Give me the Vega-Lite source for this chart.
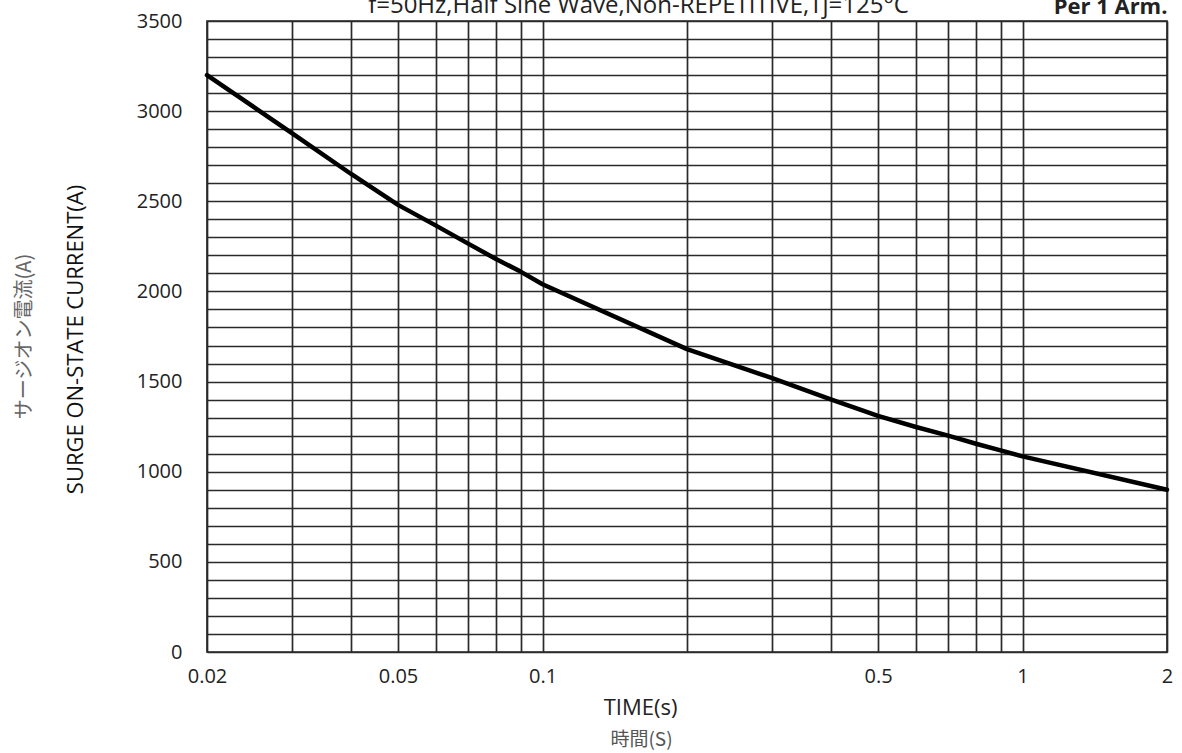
{
  "$schema": "https://vega.github.io/schema/vega-lite/v6.json",
  "autosize": {"type": "none"},
  "width": 960,
  "height": 631,
  "padding": {"left": 207, "top": 21, "right": 15, "bottom": 101},
  "background": "white",
  "config": {
    "font": "Open Sans",
    "view": {"stroke": "#222", "strokeWidth": 1.6}
  },
  "data": {
    "values": [
      {"t": 0.02, "i": 3200},
      {"t": 0.03, "i": 2880},
      {"t": 0.04, "i": 2650},
      {"t": 0.05, "i": 2480},
      {"t": 0.06, "i": 2365},
      {"t": 0.07, "i": 2265},
      {"t": 0.08, "i": 2180},
      {"t": 0.09, "i": 2110},
      {"t": 0.1, "i": 2040},
      {"t": 0.2, "i": 1680},
      {"t": 0.3, "i": 1520},
      {"t": 0.4, "i": 1400},
      {"t": 0.5, "i": 1310},
      {"t": 0.6, "i": 1248},
      {"t": 0.7, "i": 1200},
      {"t": 0.8, "i": 1155},
      {"t": 0.9, "i": 1118},
      {"t": 1, "i": 1085},
      {"t": 2, "i": 900}
    ]
  },
  "layer": [
    {
      "mark": {"type": "line", "color": "black", "strokeWidth": 4.5, "strokeCap": "round", "strokeJoin": "round"},
      "encoding": {
        "x": {
          "field": "t", "type": "quantitative",
          "scale": {"type": "log", "domain": [0.02, 2], "nice": false},
          "axis": {
            "orient": "bottom",
            "values": [0.02, 0.03, 0.04, 0.05, 0.06, 0.07, 0.08, 0.09, 0.1, 0.2, 0.3, 0.4, 0.5, 0.6, 0.7, 0.8, 0.9, 1, 2],
            "labelExpr": "indexof([0.02, 0.05, 0.1, 0.5, 1, 2], datum.value) >= 0 ? '' + datum.value : ''",
            "grid": true, "gridColor": "#2a2a2a", "gridWidth": 1.7, "gridOpacity": 1,
            "ticks": false, "tickSize": 0, "domain": false,
            "labelFontSize": 20, "labelColor": "#222", "labelPadding": 14,
            "labelFlush": false, "labelOverlap": false,
            "title": "TIME(s)", "titleFontSize": 22, "titleFontWeight": "normal", "titleColor": "#222",
            "titleX": 433, "titleY": 55, "titleBaseline": "middle", "titleAlign": "center"
          }
        },
        "y": {
          "field": "i", "type": "quantitative",
          "scale": {"domain": [0, 3500], "nice": false},
          "axis": {
            "orient": "left",
            "values": [0, 100, 200, 300, 400, 500, 600, 700, 800, 900, 1000, 1100, 1200, 1300, 1400, 1500, 1600, 1700, 1800, 1900, 2000, 2100, 2200, 2300, 2400, 2500, 2600, 2700, 2800, 2900, 3000, 3100, 3200, 3300, 3400, 3500],
            "labelExpr": "datum.value % 500 === 0 ? '' + datum.value : ''",
            "grid": true, "gridColor": "#2a2a2a", "gridWidth": 1.7, "gridOpacity": 1,
            "ticks": false, "tickSize": 0, "domain": false,
            "labelFontSize": 20, "labelColor": "#222", "labelPadding": 25,
            "labelFlush": false, "labelOverlap": false,
            "title": "SURGE ON-STATE CURRENT(A)", "titleFontSize": 22, "titleFontWeight": "normal", "titleColor": "#111",
            "titleX": -132, "titleY": 318, "titleAngle": -90, "titleBaseline": "middle", "titleAlign": "center"
          }
        }
      }
    },
    {
      "mark": {"type": "line", "opacity": 0},
      "encoding": {
        "x": {
          "field": "t", "type": "quantitative",
          "scale": {"type": "log", "domain": [0.02, 2], "nice": false},
          "axis": {
            "orient": "top",
            "values": [2],
            "labelExpr": "'Per 1 Arm.'",
            "labelAlign": "right", "labelBaseline": "alphabetic", "labelPadding": 8,
            "labelFontSize": 22, "labelFontWeight": "bold", "labelColor": "#222",
            "labelFlush": false, "labelOverlap": false,
            "ticks": false, "tickSize": 0, "domain": false, "grid": false,
            "title": "f=50Hz,Half Sine Wave,Non-REPETITIVE,Tj=125°C",
            "titleFontSize": 24, "titleFontWeight": "normal", "titleColor": "#222",
            "titleX": 431, "titleY": -9, "titleBaseline": "alphabetic", "titleAlign": "center"
          }
        },
        "y": {
          "field": "i", "type": "quantitative",
          "scale": {"domain": [0, 3500], "nice": false},
          "axis": {
            "orient": "left",
            "labels": false, "ticks": false, "domain": false, "grid": false,
            "title": "サージオン電流(A)", "titleFont": "Noto Sans CJK JP",
            "titleFontSize": 20, "titleFontWeight": "normal", "titleColor": "#666",
            "titleX": -183, "titleY": 315, "titleAngle": -90, "titleBaseline": "middle", "titleAlign": "center"
          }
        }
      }
    },
    {
      "mark": {"type": "line", "opacity": 0},
      "encoding": {
        "x": {
          "field": "t", "type": "quantitative",
          "scale": {"type": "log", "domain": [0.02, 2], "nice": false},
          "axis": {
            "orient": "bottom",
            "labels": false, "ticks": false, "domain": false, "grid": false,
            "title": "時間(S)", "titleFont": "Noto Sans CJK JP",
            "titleFontSize": 19, "titleFontWeight": "normal", "titleColor": "#555",
            "titleX": 434, "titleY": 87, "titleBaseline": "middle", "titleAlign": "center"
          }
        },
        "y": {
          "field": "i", "type": "quantitative",
          "scale": {"domain": [0, 3500], "nice": false},
          "axis": null
        }
      }
    }
  ],
  "resolve": {"axis": {"x": "independent", "y": "independent"}}
}
